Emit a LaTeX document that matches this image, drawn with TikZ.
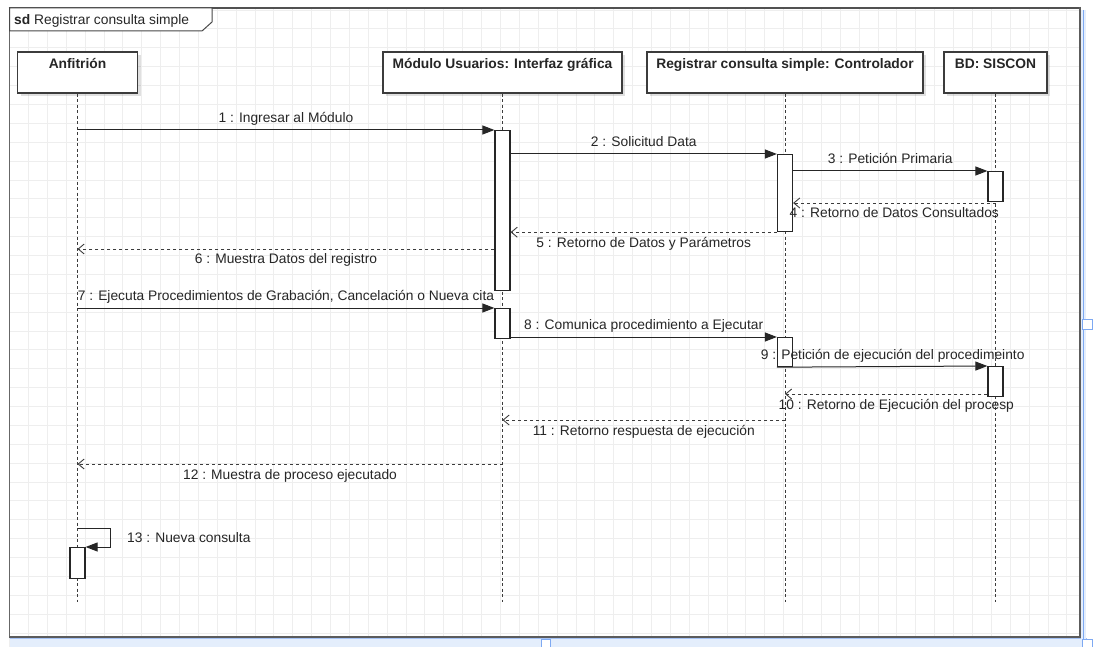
\documentclass[tikz,border=0pt]{standalone}
\usepackage{fontspec}
\setmainfont{Liberation Sans}
\usetikzlibrary{arrows.meta,calc,shadows}
\definecolor{inkc}{HTML}{262626}
\definecolor{gridc}{HTML}{EEEEEE}
\definecolor{selc}{HTML}{7EA9F2}
\definecolor{selfill}{HTML}{E4EEFC}
\begin{document}
\begin{tikzpicture}[x=1pt,y=-1pt,
  font=\fontsize{13.8}{16}\selectfont,
  gridline/.style={draw=gridc, line width=0.8pt},
  frameline/.style={draw=inkc!85, line width=1pt},
  head/.style={draw=inkc!90, line width=1.4pt, fill=white, rectangle, inner sep=0pt,
    minimum height=41pt,
    drop shadow={shadow xshift=3pt, shadow yshift=-3pt, opacity=0.12, fill=black}},
  headtext/.style={anchor=base, yshift=-17pt, font=\fontsize{13.8}{16}\selectfont\bfseries, text=inkc, inner sep=0pt},
  lifeline/.style={draw=inkc!90, line width=1pt, dash pattern=on 3pt off 2.5pt},
  act/.style={draw=inkc, line width=1.2pt, fill=white, rectangle, inner sep=0pt,
    minimum width=15pt, anchor=north},
  msg/.style={draw=inkc, line width=1pt, -{Triangle[length=12pt,width=9pt]}},
  ret/.style={draw=inkc!90, line width=0.9pt, dash pattern=on 3pt off 3pt,
    -{Straight Barb[length=6pt,width=10pt,line width=0.9pt]}},
  lblup/.style={anchor=base, yshift=7pt, text=inkc, inner sep=0pt},
  lbldown/.style={anchor=base, yshift=-15pt, text=inkc, inner sep=0pt},
]
\useasboundingbox (0,0) rectangle (1101,647);
\fill[white] (0,0) rectangle (1101,647);

% background grid of the canvas
\foreach \i in {0,...,56} \draw[gridline] ({9.5+18.88*\i},8) -- ({9.5+18.88*\i},647);
\foreach \j in {0,...,33} \draw[gridline] (9.5,{10+18.88*\j}) -- (1080,{10+18.88*\j});

% selection band along the right and bottom edges
\fill[selfill] (9.5,638) rectangle (1087,647);
\draw[selc!70, line width=0.8pt] (9.5,638.5) -- (1087,638.5);
\fill[selfill] (1081,10) rectangle (1086,647);
\draw[selc, line width=1pt] (1083.5,10) -- (1083.5,647);

% sequence diagram frame
\draw[draw=inkc!70, line width=1pt] (9.5,8) -- (9.5,637);
\draw[draw=inkc!80, line width=2.5pt] (8.5,8) -- (1081,8);
\draw[draw=inkc!75, line width=2pt] (1080,7) -- (1080,637) -- (9,637);
\draw[frameline, fill=white] (9.5,8) -- (212,8) -- (212,22) -- (202,31) -- (9.5,31) -- cycle;
\node[anchor=base west, inner sep=0pt, text=inkc] (sdl) at (14,25) {\textbf{sd}\ Registrar consulta simple};

% handles of the selection
\draw[selc, fill=white, line width=1pt] (1082,319) rectangle (1092,329);
\draw[selc, fill=white, line width=1pt] (541,639.5) rectangle (550,649);
\draw[selc, fill=white, line width=1pt] (1082,639.5) rectangle (1092,649);

% participants
\node[head, minimum width=120pt, label={[headtext]north:Anfitrión}] (hA) at (77.5,72.5) {};
\node[head, minimum width=239pt, label={[headtext]north:Módulo Usuarios: Interfaz gráfica}] (hM) at (502.5,72.5) {};
\node[head, minimum width=276pt, label={[headtext]north:Registrar consulta simple: Controlador}] (hC) at (785,72.5) {};
\node[head, minimum width=103pt, label={[headtext]north:BD: SISCON}] (hB) at (995.5,72.5) {};

% lifelines
\coordinate (lend) at (0,602);
\foreach \p in {hA,hM,hC,hB} \draw[lifeline] (\p.south) -- (\p.south |- lend);

% activation bars
\node[act, minimum height=160pt] (aM1) at (502.5,130) {};
\node[act, minimum height=77pt]  (aC1) at (785,154) {};
\node[act, minimum height=30pt]  (aB1) at (995.5,171) {};
\node[act, minimum height=30pt]  (aM2) at (502.5,308) {};
\node[act, minimum height=29pt]  (aC2) at (785,337) {};
\node[act, minimum height=30pt]  (aB2) at (995.5,366) {};
\node[act, minimum height=31pt]  (aA1) at (77.5,547) {};

% message rows
\coordinate (r4) at (0,203);
\coordinate (r6) at (0,249);
\coordinate (r10) at (0,394);
\coordinate (r11) at (0,420);
\coordinate (r12) at (0,464);
\coordinate (r13) at (0,528);

% messages
\draw[msg] (hA.south |- aM1.north) -- node[lblup] {1 : Ingresar al Módulo} (aM1.north west);
\draw[msg] (aM1.east |- aC1.north) -- node[lblup] {2 : Solicitud Data} (aC1.north west);
\draw[msg] (aC1.east |- aB1.north) -- node[lblup] {3 : Petición Primaria} (aB1.north west);
\draw[ret] (hB.south |- r4) -- node[lbldown] {4 : Retorno de Datos Consultados} (aC1.east |- r4);
\draw[ret] (aC1.south west) -- node[lbldown] {5 : Retorno de Datos y Parámetros} (aM1.east |- aC1.south);
\draw[ret] (aM1.west |- r6) -- node[lbldown] {6 : Muestra Datos del registro} (hA.south |- r6);
\draw[msg] (hA.south |- aM2.north) -- node[lblup] {7 : Ejecuta Procedimientos de Grabación, Cancelación o Nueva cita} (aM2.north west);
\draw[msg] (aM2.east |- aC2.north) -- node[lblup] {8 : Comunica procedimiento a Ejecutar} (aC2.north west);
\draw[msg] (aC2.south west) -- node[lblup, pos=0.55] {9 : Petición de ejecución del procedimeinto} (aB2.north west);
\draw[ret] (aB2.west |- r10) -- node[lbldown, pos=0.45] {10 : Retorno de Ejecución del procesp} (hC.south |- r10);
\draw[ret] (hC.south |- r11) -- node[lbldown] {11 : Retorno respuesta de ejecución} (hM.south |- r11);
\draw[ret] (hM.south |- r12) -- node[lbldown] {12 : Muestra de proceso ejecutado} (hA.south |- r12);
\draw[msg] (hA.south |- r13) -- (110,528) -- (110,547) -- (aA1.north east);
\node[anchor=base west, inner sep=0pt, text=inkc] (l13) at (127,542) {13 : Nueva consulta};
\end{tikzpicture}
\end{document}
